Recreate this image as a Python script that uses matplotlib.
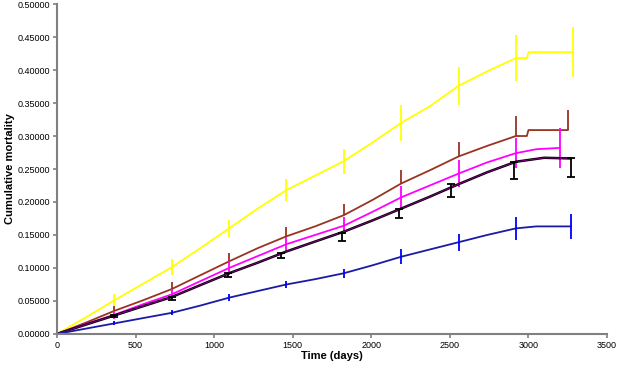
import matplotlib
matplotlib.use("Agg")
import matplotlib.pyplot as plt

plt.rcParams['font.family'] = ['Liberation Sans', 'DejaVu Sans']

# half-year time grid (days)
days = [0, 182, 365, 547, 730, 912, 1095, 1277, 1460, 1642, 1825, 2007,
        2190, 2372, 2555, 2737, 2920]

yellow_t = days + [2990, 3000, 3283]
yellow_y = [0, 0.025, 0.051, 0.076, 0.101, 0.13, 0.16, 0.19, 0.218, 0.24,
            0.262, 0.29, 0.32, 0.345, 0.376, 0.398, 0.418, 0.418, 0.427, 0.427]

brown_t = days + [2990, 3000, 3250]
brown_y = [0, 0.017, 0.035, 0.051, 0.068, 0.089, 0.11, 0.13, 0.148, 0.163,
           0.18, 0.203, 0.228, 0.248, 0.269, 0.285, 0.30, 0.30, 0.309, 0.309]

magenta_t = days + [3050, 3200]
magenta_y = [0, 0.015, 0.029, 0.045, 0.06, 0.08, 0.10, 0.118, 0.136, 0.15,
             0.164, 0.185, 0.207, 0.225, 0.243, 0.26, 0.274, 0.28, 0.282]

black_t = days + [3100, 3270]
black_y = [0, 0.014, 0.028, 0.042, 0.056, 0.074, 0.092, 0.108, 0.125, 0.14,
           0.155, 0.172, 0.19, 0.208, 0.227, 0.245, 0.261, 0.267, 0.266]

blue_t = days + [3050, 3270]
blue_y = [0, 0.008, 0.016, 0.024, 0.032, 0.043, 0.055, 0.065, 0.075, 0.083,
          0.092, 0.104, 0.117, 0.128, 0.139, 0.15, 0.16, 0.163, 0.163]

# error bars (yearly)
yellow_ex = [365, 730, 1095, 1460, 1825, 2190, 2555, 2920, 3283]
yellow_ey = [0.051, 0.101, 0.16, 0.218, 0.262, 0.32, 0.376, 0.418, 0.427]
yellow_err = [0.01, 0.012, 0.013, 0.017, 0.019, 0.027, 0.029, 0.035, 0.038]

brown_ex = [365, 730, 1095, 1460, 1825, 2190, 2555, 2920, 3250]
brown_ey = [0.035, 0.068, 0.11, 0.148, 0.18, 0.228, 0.269, 0.30, 0.309]
brown_err = [0.008, 0.01, 0.012, 0.014, 0.017, 0.02, 0.022, 0.03, 0.03]

magenta_ex = [365, 730, 1095, 1460, 1825, 2190, 2555, 2920, 3200]
magenta_ey = [0.029, 0.06, 0.10, 0.136, 0.164, 0.207, 0.243, 0.274, 0.282]
magenta_err = [0.006, 0.008, 0.01, 0.011, 0.013, 0.017, 0.021, 0.023, 0.03]

black_ex = [365, 730, 1090, 1425, 1815, 2175, 2505, 2910, 3270]
black_ey = [0.028, 0.056, 0.092, 0.123, 0.153, 0.19, 0.227, 0.261, 0.266]
black_err = [0.003, 0.004, 0.006, 0.008, 0.012, 0.015, 0.02, 0.026, 0.028]

blue_ex = [365, 730, 1095, 1460, 1825, 2190, 2555, 2920, 3270]
blue_ey = [0.016, 0.032, 0.055, 0.075, 0.092, 0.117, 0.139, 0.16, 0.163]
blue_err = [0.003, 0.004, 0.005, 0.006, 0.007, 0.011, 0.013, 0.017, 0.019]

fig = plt.figure(figsize=(6.17, 3.69), dpi=100)
ax = fig.add_axes([0.0924, 0.095, 0.8914, 0.894])

ax.plot(yellow_t, yellow_y, color='#FFFF00', lw=1.3)
ax.errorbar(yellow_ex, yellow_ey, yerr=yellow_err, fmt='none', ecolor='#FFFF00', elinewidth=1.3)

ax.plot(brown_t, brown_y, color='#993322', lw=1.3)
ax.errorbar(brown_ex, brown_ey, yerr=[[0] * len(brown_err), brown_err], fmt='none',
            ecolor='#993322', elinewidth=1.3)

ax.plot(magenta_t, magenta_y, color='#FF00FF', lw=1.3)
ax.errorbar(magenta_ex, magenta_ey, yerr=magenta_err, fmt='none', ecolor='#FF00FF', elinewidth=1.3)

ax.plot(black_t, black_y, color='black', lw=1.8)
ax.plot(black_t, black_y, color='#800080', lw=0.7)
ax.errorbar(black_ex, black_ey, yerr=[black_err, [0] * len(black_err)], fmt='none',
            ecolor='black', elinewidth=1.3, capsize=3, capthick=1.3)

ax.plot(blue_t, blue_y, color='#1a1aa6', lw=1.3)
ax.errorbar(blue_ex, blue_ey, yerr=blue_err, fmt='none', ecolor='#0000ff', elinewidth=1.3)

ax.set_xlim(0, 3500)
ax.set_ylim(0, 0.5)
ax.set_xticks(range(0, 3501, 500))
ax.set_yticks([i * 0.05 for i in range(11)])
ax.set_yticklabels(['%.5f' % (i * 0.05) for i in range(11)])
ax.tick_params(labelsize=6.5, length=3, color='#808080', width=1.2, pad=2)
for s in ['top', 'right']:
    ax.spines[s].set_visible(False)
for s in ['left', 'bottom']:
    ax.spines[s].set_color('#808080')
    ax.spines[s].set_linewidth(1.5)

ax.set_xlabel('Time (days)', fontsize=8, fontweight='bold', labelpad=1)
ax.set_ylabel('Cumulative mortality', fontsize=8, fontweight='bold', labelpad=2)

fig.savefig('out.png', dpi=100)
